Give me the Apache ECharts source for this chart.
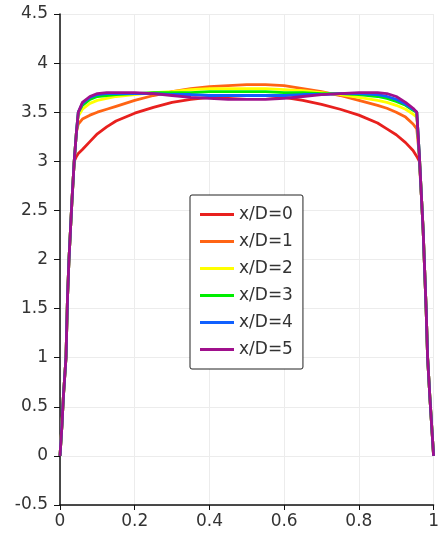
<!DOCTYPE html>
<html>
<head>
<meta charset="utf-8">
<script src="https://cdn.jsdelivr.net/npm/echarts@6/dist/echarts.min.js"></script>
<style>
  html, body { margin: 0; padding: 0; background: #fff; }
  #chart { width: 442px; height: 536px; }
</style>
</head>
<body>
<div id="chart"></div>
<script>
// shared x positions (walls are dense, core is coarse)
const xs = [0, 0.005, 0.009, 0.016, 0.02, 0.024, 0.028, 0.032, 0.038, 0.044, 0.049,
  0.06, 0.08, 0.1, 0.125, 0.15, 0.2, 0.25, 0.3, 0.35, 0.4, 0.45, 0.5, 0.55, 0.6,
  0.65, 0.7, 0.75, 0.8, 0.85, 0.875, 0.9, 0.925, 0.945, 0.955,
  0.962, 0.968, 0.972, 0.976, 0.98, 0.984, 0.99, 0.995, 1]

const names = ["x/D=0", "x/D=1", "x/D=2", "x/D=3", "x/D=4", "x/D=5"]
const colors = ["#e8201e", "#ff6414", "#ffff00", "#00ee00", "#1060ff", "#a0108c"]

const xd0 = [0, 0.3, 0.6, 1.0, 1.6, 2.0, 2.3, 2.6, 3.0, 3.05, 3.08,
  3.12, 3.2, 3.28, 3.35, 3.41, 3.49, 3.55, 3.6, 3.63, 3.65, 3.66, 3.67, 3.67, 3.65,
  3.62, 3.58, 3.53, 3.47, 3.39, 3.33, 3.27, 3.19, 3.11, 3.05,
  3.0, 2.6, 2.3, 1.9, 1.5, 1.0, 0.6, 0.3, 0]
const xd1 = [0, 0.3, 0.6, 1.0, 1.6, 2.0, 2.3, 2.6, 3.0, 3.3, 3.38,
  3.43, 3.47, 3.5, 3.53, 3.56, 3.62, 3.67, 3.71, 3.74, 3.76, 3.77, 3.78, 3.78, 3.77,
  3.74, 3.71, 3.67, 3.62, 3.57, 3.54, 3.5, 3.45, 3.38, 3.33,
  3.05, 2.6, 2.3, 1.9, 1.5, 1.0, 0.6, 0.3, 0]
const xd2 = [0, 0.3, 0.6, 1.0, 1.6, 2.0, 2.3, 2.6, 3.0, 3.3, 3.46,
  3.53, 3.59, 3.62, 3.64, 3.66, 3.68, 3.7, 3.71, 3.73, 3.74, 3.74, 3.74, 3.74, 3.73,
  3.72, 3.7, 3.68, 3.65, 3.62, 3.6, 3.57, 3.53, 3.48, 3.45,
  3.05, 2.6, 2.3, 1.9, 1.5, 1.0, 0.6, 0.3, 0]
const xd3 = [0, 0.3, 0.6, 1.0, 1.6, 2.0, 2.3, 2.6, 3.0, 3.3, 3.5,
  3.57, 3.63, 3.66, 3.67, 3.68, 3.69, 3.7, 3.7, 3.7, 3.71, 3.71, 3.71, 3.71, 3.7,
  3.7, 3.69, 3.69, 3.68, 3.66, 3.64, 3.61, 3.57, 3.52, 3.5,
  3.05, 2.6, 2.3, 1.9, 1.5, 1.0, 0.6, 0.3, 0]
const xd4 = [0, 0.3, 0.6, 1.0, 1.6, 2.0, 2.3, 2.6, 3.0, 3.3, 3.5,
  3.59, 3.65, 3.68, 3.69, 3.69, 3.69, 3.69, 3.68, 3.68, 3.67, 3.67, 3.67, 3.67, 3.67,
  3.68, 3.68, 3.69, 3.69, 3.68, 3.66, 3.63, 3.58, 3.53, 3.5,
  3.05, 2.6, 2.3, 1.9, 1.5, 1.0, 0.6, 0.3, 0]
const xd5 = [0, 0.3, 0.6, 1.0, 1.6, 2.0, 2.3, 2.6, 3.0, 3.3, 3.5,
  3.6, 3.66, 3.69, 3.7, 3.7, 3.7, 3.69, 3.67, 3.65, 3.64, 3.63, 3.63, 3.63, 3.64,
  3.66, 3.68, 3.69, 3.7, 3.7, 3.69, 3.66, 3.6, 3.54, 3.5,
  3.05, 2.6, 2.3, 1.9, 1.5, 1.0, 0.6, 0.3, 0]

const profiles = [xd0, xd1, xd2, xd3, xd4, xd5]

const font = "DejaVu Sans"
const chart = echarts.init(document.getElementById("chart"))

const series = profiles.map((ys, i) => ({
  name: names[i],
  type: "line",
  showSymbol: false,
  animation: false,
  data: xs.map((x, k) => [x, ys[k]]),
  lineStyle: { color: colors[i], width: 2.8 },
  itemStyle: { color: colors[i] }
}))

chart.setOption({
  backgroundColor: "#fff",
  grid: { left: 60, right: 6, top: 14, bottom: 31 },
  xAxis: {
    type: "value",
    min: 0,
    max: 1,
    interval: 0.2,
    axisLine: { show: true, onZero: false, lineStyle: { color: "#111", width: 1.5 } },
    axisTick: { show: true, length: 5, lineStyle: { color: "#111" } },
    axisLabel: { color: "#333", fontSize: 17, fontFamily: font, margin: 8 },
    splitLine: { show: true, lineStyle: { color: "#ececec", width: 1 } }
  },
  yAxis: {
    type: "value",
    min: -0.5,
    max: 4.5,
    interval: 0.5,
    axisLine: { show: true, onZero: false, lineStyle: { color: "#111", width: 1.5 } },
    axisTick: { show: true, length: 6, lineStyle: { color: "#111" } },
    axisLabel: { color: "#333", fontSize: 17, fontFamily: font, margin: 12 },
    splitLine: { show: true, lineStyle: { color: "#ececec", width: 1 } }
  },
  legend: {
    orient: "vertical",
    left: 190,
    top: 195,
    padding: [11, 10, 11, 10],
    itemGap: 10,
    itemWidth: 34,
    itemHeight: 3,
    icon: "rect",
    backgroundColor: "#fff",
    borderColor: "#222",
    borderWidth: 1,
    borderRadius: 2,
    textStyle: { color: "#333", fontSize: 17, fontFamily: font, lineHeight: 16 },
    data: names
  },
  series: series
})
</script>
</body>
</html>
